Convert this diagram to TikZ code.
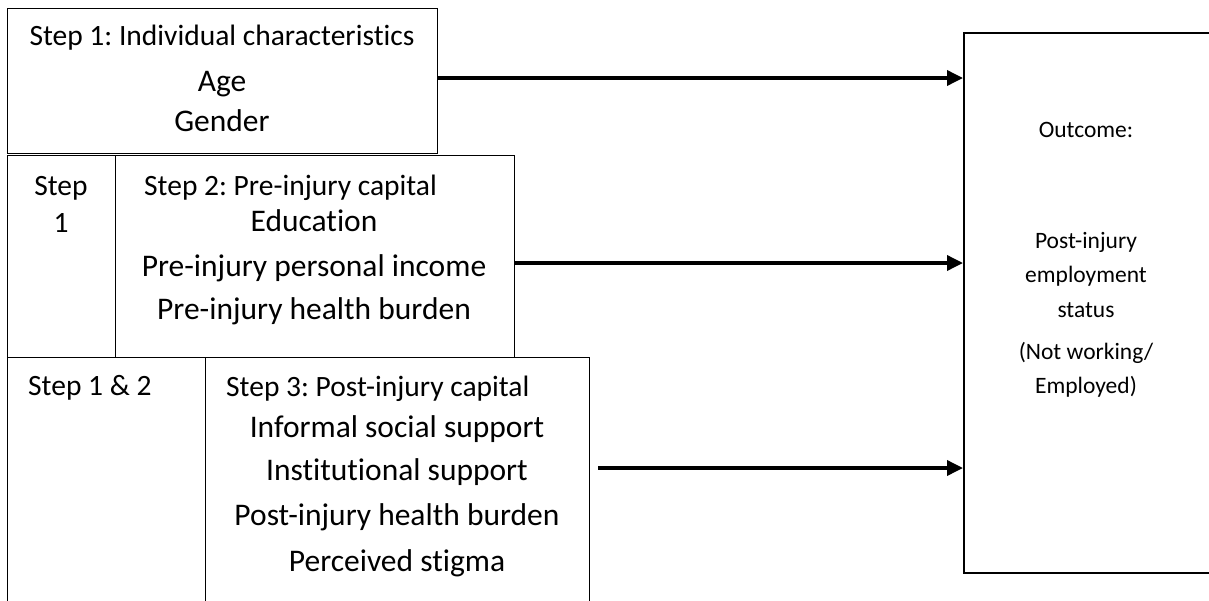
\documentclass[tikz,border=0pt]{standalone}
\usepackage{fontspec}
\setmainfont{Carlito}[Ligatures=NoCommon]
\frenchspacing
\usetikzlibrary{arrows.meta}

\tikzset{
  box/.style={draw, line width=1.3pt, inner sep=0pt, anchor=north west},
  outbox/.style={draw, line width=2.3pt, inner sep=0pt, anchor=north west},
  head/.style={font=\fontsize{29.5}{35}\selectfont, inner sep=0pt, anchor=base},
  item/.style={font=\fontsize{31.5}{38}\selectfont, inner sep=0pt, anchor=base},
  res/.style={font=\fontsize{23.5}{28}\selectfont, inner sep=0pt, anchor=base},
  arr/.style={line width=3.5pt, -{Triangle[length=16pt,width=15pt]}},
}

\begin{document}
\begin{tikzpicture}[x=1pt,y=1pt]
\useasboundingbox (0,0) rectangle (1209,-600);
\clip (0,0) rectangle (1209,-600);
% boxes
\node[box, minimum width=430pt, minimum height=145pt] (ind) at (7,-8) {};
\node[box, minimum width=108pt, minimum height=202pt] (prestep) at (7,-155) {};
\node[box, minimum width=399pt, minimum height=202pt] (precap) at (115,-155) {};
\node[box, minimum width=198pt, minimum height=253pt] (poststep) at (7,-357) {};
\node[box, minimum width=384pt, minimum height=253pt] (postcap) at (205,-357) {};
\node[outbox, minimum width=250pt, minimum height=540pt] (out) at (963,-32) {};
% step 1
\node[head] (h1) at (222,-45) {Step 1: Individual characteristics};
\node[item] (age) at (222,-91) {Age};
\node[item] (gender) at (222,-131) {Gender};
% step 2
\node[head] (s1a) at (61,-195) {Step};
\node[head] (s1b) at (61,-232) {1};
\node[head, anchor=base west] (h2) at (144,-195) {Step 2: Pre-injury capital};
\node[item] (edu) at (314,-231) {Education};
\node[item] (inc) at (314,-276) {Pre-injury personal income};
\node[item] (hb1) at (314,-319) {Pre-injury health burden};
% step 3
\node[head, anchor=base west] (s12) at (28,-395) {Step 1 \& 2};
\node[head, anchor=base west] (h3) at (226,-396) {Step 3: Post-injury capital};
\node[item] (soc) at (397,-437) {Informal social support};
\node[item] (inst) at (397,-480) {Institutional support};
\node[item] (hb2) at (397,-525) {Post-injury health burden};
\node[item] (stig) at (397,-571) {Perceived stigma};
% outcome
\node[res] (o1) at (1086,-137) {Outcome:};
\node[res] (o2) at (1086,-248) {Post-injury};
\node[res] (o3) at (1086,-282) {employment};
\node[res] (o4) at (1086,-317) {status};
\node[res] (o5) at (1086,-359) {(Not working/};
\node[res] (o6) at (1086,-393) {Employed)};
% arrows
\coordinate (a1) at ([yshift=-70pt]ind.north east);
\coordinate (a2) at ([yshift=-108pt]precap.north east);
\coordinate (a3) at ([shift={(8pt,-111pt)}]postcap.north east);
\draw[arr] (a1) -- (a1 -| out.west);
\draw[arr] (a2) -- (a2 -| out.west);
\draw[arr] (a3) -- (a3 -| out.west);
\end{tikzpicture}
\end{document}
